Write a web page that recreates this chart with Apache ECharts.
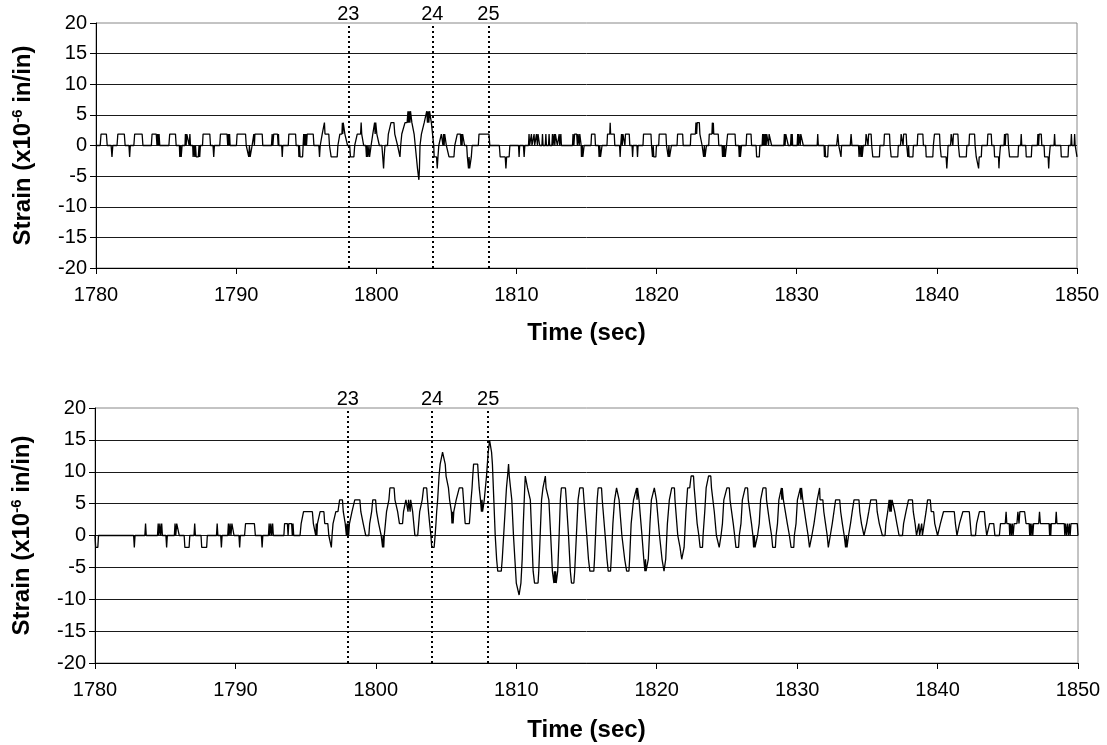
<!DOCTYPE html>
<html>
<head>
<meta charset="utf-8">
<script src="https://cdn.jsdelivr.net/npm/echarts@6/dist/echarts.min.js"></script>
<style>
html,body{margin:0;padding:0;background:#fff;}
#chart{width:1107px;height:745px;}
</style>
</head>
<body>
<div id="chart"></div>
<script>
// ---- data (time in sec, strain in x10^-6 in/in) ----
const markerTimes = [1798, 1804, 1808];
const markerLabels = ['23', '24', '25'];
const xMin = 1780, xMax = 1850, xStep = 10;
const yMin = -20, yMax = 20, yStep = 5;

const topStrain = [
[1780.0,0],[1780.3,0],[1780.36,1.87],[1780.74,1.87],[1780.8,0],[1781.08,0],[1781.14,-1.87],[1781.2,0],[1781.5,0],[1781.56,1.87],[1782.02,1.87],[1782.08,0],[1782.35,0],[1782.4,-1.87],[1782.45,0],[1782.7,0],[1782.76,1.87],[1783.29,1.87],[1783.35,0],
[1783.95,0],[1784.0,1.87],[1784.3,1.87],[1784.35,0],[1784.4,1.87],[1784.45,0],[1784.5,1.87],[1784.55,0],[1785.2,0],[1785.26,1.87],[1785.67,1.87],[1785.72,0],[1785.95,0],[1785.98,-1.87],[1786.03,0],[1786.08,-1.87],[1786.14,0],
[1786.35,0],[1786.38,1.87],[1786.43,0],[1786.48,1.87],[1786.6,1.87],[1786.65,0],[1786.7,1.87],[1786.74,0],[1786.9,0],[1786.93,-1.87],[1787.0,0],[1787.05,-1.87],[1787.1,0],[1787.15,-1.87],[1787.3,-1.87],[1787.35,0],[1787.4,-1.87],[1787.45,0],
[1787.6,0],[1787.64,1.87],[1788.12,1.87],[1788.17,0],[1788.35,0],[1788.4,-1.87],[1788.45,0],[1788.83,0],[1788.88,1.87],[1789.35,1.87],[1789.4,0],[1789.45,1.87],[1789.5,0],[1789.53,1.87],[1789.57,0],
[1790.02,0],[1790.07,1.87],[1790.67,1.87],[1790.72,0],[1790.86,0],[1790.9,-1.87],[1790.95,0],[1791.0,-1.87],[1791.1,-1.87],[1791.14,0],[1791.22,0],[1791.26,1.87],[1791.3,0],[1791.34,1.87],[1791.86,1.87],[1791.9,0],
[1792.52,0],[1792.57,1.87],[1792.62,0],[1792.68,1.87],[1792.95,1.87],[1793.0,0],[1793.02,1.87],[1793.05,0],[1793.25,0],[1793.29,-1.87],[1793.33,0],[1793.72,0],[1793.76,1.87],[1794.24,1.87],[1794.28,0],
[1794.45,0],[1794.48,-1.87],[1794.52,0],[1794.56,-1.87],[1794.74,-1.87],[1794.78,0],[1794.82,1.87],[1794.86,0],[1794.9,1.87],[1794.94,0],[1794.98,1.87],[1795.02,0],[1795.07,1.87],[1795.5,1.87],[1795.55,0],
[1795.9,0],[1795.95,-1.87],[1796.0,0],[1796.1,0],[1796.14,1.87],[1796.26,1.87],[1796.3,3.73],[1796.34,1.87],[1796.61,1.87],[1796.66,0],[1796.74,0],[1796.78,-1.87],[1797.21,-1.87],[1797.26,0],
[1797.35,0],[1797.4,1.87],[1797.55,1.87],[1797.58,3.73],[1797.61,1.87],[1797.64,3.73],[1797.72,3.73],[1797.76,1.87],[1797.88,1.87],[1797.95,0],[1798.1,0],[1798.16,-1.87],[1798.4,-1.87],[1798.46,0],
[1798.58,0],[1798.64,1.87],[1798.88,1.87],[1798.92,3.73],[1798.96,1.87],[1799.05,1.87],[1799.1,0],[1799.25,0],[1799.3,-1.87],[1799.35,0],[1799.4,-1.87],[1799.48,0],[1799.52,-1.87],[1799.59,-1.87],[1799.63,0],
[1799.7,0],[1799.75,1.87],[1799.85,1.87],[1799.88,3.73],[1799.92,1.87],[1799.96,3.73],[1800.0,3.73],[1800.04,1.87],[1800.16,1.87],[1800.22,0],[1800.4,0],[1800.46,-1.87],[1800.52,-3.73],[1800.56,-1.87],[1800.62,0],
[1800.8,0],[1800.86,1.87],[1800.98,1.87],[1801.05,3.73],[1801.26,3.73],[1801.32,1.87],[1801.45,1.87],[1801.52,0],[1801.64,0],[1801.69,-1.87],[1801.74,0],[1801.82,1.87],[1801.95,1.87],[1802.05,3.73],[1802.2,3.73],
[1802.26,5.6],[1802.3,3.73],[1802.35,5.6],[1802.4,3.73],[1802.44,5.6],[1802.5,5.6],[1802.54,3.73],[1802.64,3.73],[1802.7,1.87],[1802.78,0],[1802.86,-1.87],[1802.94,-3.73],[1803.0,-3.73],[1803.04,-5.6],[1803.08,-3.73],[1803.12,0],
[1803.22,1.87],[1803.32,1.87],[1803.42,3.73],[1803.54,3.73],[1803.6,5.6],[1803.65,3.73],[1803.7,5.6],[1803.75,3.73],[1803.8,5.6],[1803.88,5.6],[1803.93,3.73],[1804.06,3.73],[1804.1,0],[1804.13,-1.87],[1804.3,-1.87],[1804.35,-3.73],[1804.4,-1.87],[1804.46,0],
[1804.6,0],[1804.64,1.87],[1804.72,1.87],[1804.76,0],[1804.8,1.87],[1804.84,0],[1804.88,1.87],[1804.95,1.87],[1805.0,0],[1805.14,0],[1805.19,-1.87],[1805.54,-1.87],[1805.6,0],
[1805.74,0],[1805.78,1.87],[1806.0,1.87],[1806.04,0],[1806.08,1.87],[1806.12,0],[1806.16,1.87],[1806.26,1.87],[1806.3,0],[1806.45,0],[1806.5,-1.87],[1806.58,-3.73],[1806.62,-1.87],[1806.66,-3.73],[1806.72,-3.73],[1806.78,-1.87],[1806.84,0],
[1807.28,0],[1807.33,1.87],[1808.04,1.87],[1808.1,0],[1808.78,0],[1808.84,-1.87],[1809.2,-1.87],[1809.25,-3.73],[1809.3,-1.87],[1809.48,-1.87],[1809.53,0],
[1810.15,0],[1810.19,-1.87],[1810.23,0],[1810.5,0],[1810.55,-1.87],[1810.6,0],[1810.86,0],[1810.9,1.87],[1810.94,0],[1811.03,0],[1811.07,1.87],[1811.11,0],[1811.22,0],[1811.26,1.87],[1811.3,0],
[1811.4,0],[1811.43,1.87],[1811.5,0],[1811.54,1.87],[1811.62,1.87],[1811.66,0],[1811.82,0],[1811.86,1.87],[1811.9,0],[1812.06,0],[1812.1,1.87],[1812.14,0],[1812.29,0],[1812.33,1.87],[1812.37,0],
[1812.53,0],[1812.57,1.87],[1812.61,0],[1812.66,0],[1812.69,1.87],[1812.74,0],[1812.78,1.87],[1812.88,1.87],[1812.92,0],[1813.01,0],[1813.05,1.87],[1813.09,0],[1813.13,0],[1813.17,1.87],[1813.21,0],
[1814.0,0],[1814.04,1.87],[1814.1,0],[1814.15,1.87],[1814.3,1.87],[1814.35,0],[1814.4,1.87],[1814.48,0],[1814.52,1.87],[1814.6,1.87],[1814.62,0],[1814.64,-1.87],[1814.7,0],[1814.74,-1.87],[1814.79,-1.87],[1814.83,0],
[1815.32,0],[1815.36,1.87],[1815.6,1.87],[1815.64,0],[1815.86,0],[1815.9,-1.87],[1815.95,0],[1816.0,-1.87],[1816.07,-1.87],[1816.11,0],
[1816.46,0],[1816.5,1.87],[1816.66,1.87],[1816.69,3.73],[1816.72,1.87],[1816.98,1.87],[1817.02,0],[1817.36,0],[1817.4,-1.87],[1817.44,0],[1817.47,0],[1817.5,1.87],[1817.55,0],[1817.6,1.87],[1817.7,1.87],[1817.74,0],[1817.78,1.87],[1818.05,1.87],[1818.09,0],
[1818.25,0],[1818.29,-1.87],[1818.33,0],[1818.6,0],[1818.64,-1.87],[1818.68,0],[1819.03,0],[1819.07,1.87],[1819.6,1.87],[1819.64,0],[1819.68,0],[1819.71,-1.87],[1819.76,0],[1819.8,-1.87],[1819.95,-1.87],[1819.99,0],
[1820.15,0],[1820.19,1.87],[1820.67,1.87],[1820.71,0],[1820.79,0],[1820.83,-1.87],[1820.88,0],[1820.93,-1.87],[1821.02,-1.87],[1821.06,0],[1821.46,0],[1821.5,1.87],[1821.86,1.87],[1821.9,0],
[1822.41,0],[1822.45,1.87],[1822.77,1.87],[1822.81,3.73],[1822.86,1.87],[1822.9,3.73],[1823.05,3.73],[1823.09,1.87],[1823.2,1.87],[1823.25,0],[1823.32,0],[1823.36,-1.87],[1823.41,0],[1823.46,-1.87],[1823.52,-1.87],[1823.56,0],
[1823.72,0],[1823.76,1.87],[1823.95,1.87],[1823.98,3.73],[1824.02,1.87],[1824.05,3.73],[1824.08,1.87],[1824.4,1.87],[1824.44,0],[1824.67,0],[1824.71,-1.87],[1824.76,0],[1824.8,-1.87],[1824.85,0],[1824.9,-1.87],[1824.95,-1.87],[1824.99,0],
[1825.03,0],[1825.07,1.87],[1825.6,1.87],[1825.64,0],[1825.86,0],[1825.9,-1.87],[1825.95,0],[1825.98,-1.87],[1826.02,-1.87],[1826.06,0],[1826.39,0],[1826.43,1.87],[1826.74,1.87],[1826.78,0],[1827.1,0],[1827.14,-1.87],[1827.33,-1.87],[1827.37,0],
[1827.53,0],[1827.57,1.87],[1827.62,0],[1827.66,1.87],[1827.72,0],[1827.76,1.87],[1827.82,0],[1827.86,1.87],[1827.95,1.87],[1827.99,0],[1828.03,1.87],[1828.17,1.87],[1828.21,0],
[1829.08,0],[1829.12,1.87],[1829.17,0],[1829.22,1.87],[1829.36,1.87],[1829.4,0],[1829.56,0],[1829.6,1.87],[1829.65,0],[1829.68,1.87],[1829.71,0],[1830.03,0],[1830.07,1.87],[1830.12,0],[1830.16,1.87],[1830.25,0],[1830.29,1.87],[1830.43,1.87],[1830.47,0],
[1831.46,0],[1831.5,1.87],[1831.54,0],[1831.95,0],[1831.98,-1.87],[1832.02,0],[1832.06,-1.87],[1832.21,-1.87],[1832.25,0],[1832.85,0],[1832.93,1.87],[1833.0,0],[1833.12,0],[1833.16,-1.87],[1833.2,0],[1833.82,0],[1833.88,1.87],[1833.94,0],
[1834.41,0],[1834.45,-1.87],[1834.52,0],[1834.58,-1.87],[1834.64,0],[1834.67,-1.87],[1834.71,-1.87],[1834.75,0],[1834.91,0],[1834.95,1.87],[1835.05,1.87],[1835.09,0],[1835.13,1.87],[1835.31,1.87],[1835.35,0],
[1835.39,0],[1835.43,-1.87],[1835.9,-1.87],[1835.94,0],[1836.22,0],[1836.26,1.87],[1836.62,1.87],[1836.66,0],[1836.7,0],[1836.74,-1.87],[1837.21,-1.87],[1837.25,0],
[1837.41,0],[1837.45,1.87],[1837.55,1.87],[1837.59,0],[1837.63,1.87],[1837.81,1.87],[1837.85,0],[1837.89,0],[1837.93,-1.87],[1837.98,0],[1838.02,-1.87],[1838.29,-1.87],[1838.33,0],
[1838.6,0],[1838.64,1.87],[1839.0,1.87],[1839.04,0],[1839.2,0],[1839.24,-1.87],[1839.71,-1.87],[1839.75,0],[1839.79,0],[1839.83,1.87],[1840.19,1.87],[1840.23,0],
[1840.27,0],[1840.31,-1.87],[1840.66,-1.87],[1840.71,-3.73],[1840.76,-1.87],[1840.8,0],[1840.98,0],[1841.02,1.87],[1841.1,1.87],[1841.14,0],[1841.18,1.87],[1841.5,1.87],[1841.54,0],
[1841.58,0],[1841.62,-1.87],[1842.1,-1.87],[1842.14,0],[1842.29,0],[1842.33,1.87],[1842.69,1.87],[1842.73,0],[1842.77,0],[1842.81,-1.87],[1842.94,-1.87],[1842.98,-3.73],[1843.02,-1.87],[1843.17,-1.87],[1843.21,0],
[1843.6,0],[1843.64,1.87],[1843.88,1.87],[1843.92,0],[1844.08,0],[1844.12,-1.87],[1844.4,-1.87],[1844.43,-3.73],[1844.47,-1.87],[1844.5,-1.87],[1844.54,0],
[1844.79,0],[1844.83,1.87],[1844.88,0],[1844.92,1.87],[1845.07,1.87],[1845.11,0],[1845.15,0],[1845.19,-1.87],[1845.79,-1.87],[1845.83,0],[1845.98,0],[1846.02,1.87],[1846.06,0],
[1846.34,0],[1846.38,-1.87],[1846.74,-1.87],[1846.78,0],[1847.17,0],[1847.21,1.87],[1847.26,0],[1847.3,1.87],[1847.45,1.87],[1847.49,0],[1847.65,0],[1847.69,-1.87],[1847.94,-1.87],[1847.98,-3.73],[1848.02,-1.87],[1848.05,-1.87],[1848.09,0],
[1848.36,0],[1848.4,1.87],[1848.44,0],[1848.84,0],[1848.88,-1.87],[1849.36,-1.87],[1849.4,0],[1849.56,0],[1849.6,1.87],[1849.64,0],[1849.8,0],[1849.83,1.87],[1849.87,0],[1849.96,0],[1850.0,-1.87]
];

const bottomStrain = [
[1780.0,0],[1780.05,-1.87],[1780.2,-1.87],[1780.25,0],[1782.75,0],[1782.8,-1.87],[1782.85,0],[1783.55,0],[1783.6,1.87],[1783.65,0],
[1784.45,0],[1784.5,1.87],[1784.55,0],[1784.62,1.87],[1784.68,0],[1784.75,1.87],[1784.8,0],[1785.05,0],[1785.1,-1.87],[1785.15,0],
[1785.65,0],[1785.7,1.87],[1785.75,0],[1785.82,1.87],[1785.95,1.87],[1786.0,0],[1786.35,0],[1786.4,-1.87],[1786.7,-1.87],[1786.75,0],
[1787.05,0],[1787.1,1.87],[1787.15,0],[1787.55,0],[1787.6,-1.87],[1787.95,-1.87],[1788.0,0],[1788.65,0],[1788.7,1.87],[1788.75,0],[1788.95,0],[1789.0,-1.87],[1789.05,0],
[1789.45,0],[1789.5,1.87],[1789.55,0],[1789.62,1.87],[1789.68,0],[1789.75,1.87],[1789.85,1.87],[1789.9,0],[1790.25,0],[1790.3,-1.87],[1790.35,0],
[1790.65,0],[1790.72,1.87],[1791.35,1.87],[1791.42,0],[1791.85,0],[1791.9,-1.87],[1791.95,0],
[1792.35,0],[1792.4,1.87],[1792.45,0],[1792.52,1.87],[1792.58,0],[1792.65,1.87],[1792.7,0],
[1793.45,0],[1793.5,1.87],[1793.7,1.87],[1793.75,0],[1793.8,1.87],[1794.0,1.87],[1794.05,0],[1794.1,1.87],[1794.15,0],
[1794.6,0],[1794.68,1.87],[1794.75,1.87],[1794.85,3.73],[1795.48,3.73],[1795.55,1.87],[1795.68,1.87],[1795.72,0],[1795.76,1.87],[1795.8,0],[1795.84,1.87],[1795.98,1.87],[1796.03,3.73],[1796.3,3.73],
[1796.36,1.87],[1796.58,1.87],[1796.65,0],[1796.78,0],[1796.83,-1.87],[1796.88,0],[1796.95,1.87],[1797.05,1.87],[1797.15,3.73],[1797.3,3.73],[1797.42,5.6],[1797.62,5.6],[1797.68,3.73],[1797.75,3.73],
[1797.82,1.87],[1797.9,0],[1797.94,1.87],[1797.98,0],[1798.02,1.87],[1798.06,0],[1798.12,1.87],[1798.2,1.87],[1798.3,3.73],[1798.4,3.73],[1798.5,5.6],[1798.86,5.6],[1798.93,3.73],[1799.02,3.73],
[1799.1,1.87],[1799.2,1.87],[1799.28,0],[1799.5,0],[1799.56,1.87],[1799.62,1.87],[1799.7,3.73],[1799.78,5.6],[1799.98,5.6],[1800.05,3.73],[1800.12,3.73],[1800.2,1.87],[1800.3,1.87],[1800.38,0],
[1800.45,0],[1800.48,-1.87],[1800.52,0],[1800.56,-1.87],[1800.6,0],[1800.68,1.87],[1800.76,3.73],[1800.85,3.73],[1800.93,5.6],[1801.0,7.46],[1801.3,7.46],[1801.36,5.6],[1801.45,5.6],[1801.55,3.73],
[1801.62,3.73],[1801.68,1.87],[1801.9,1.87],[1801.97,3.73],[1802.06,3.73],[1802.14,5.6],[1802.25,5.6],[1802.29,3.73],[1802.33,5.6],[1802.4,5.6],[1802.44,3.73],[1802.48,5.6],[1802.55,5.6],
[1802.62,3.73],[1802.7,1.87],[1802.78,0],[1802.98,0],[1803.05,1.87],[1803.12,3.73],[1803.22,3.73],[1803.3,5.6],[1803.4,7.46],[1803.62,7.46],[1803.68,5.6],[1803.75,3.73],[1803.83,1.87],[1803.92,0],
[1803.98,-1.87],[1804.15,-1.87],[1804.22,0],[1804.28,1.87],[1804.33,3.73],[1804.4,5.6],[1804.45,7.46],[1804.5,9.33],[1804.58,11.2],[1804.68,11.2],[1804.75,13.06],[1804.88,13.06],[1804.94,11.2],
[1805.0,9.33],[1805.1,9.33],[1805.17,7.46],[1805.25,5.6],[1805.33,5.6],[1805.38,3.73],[1805.42,1.87],[1805.46,3.73],[1805.5,1.87],[1805.55,3.73],[1805.62,3.73],[1805.72,5.6],[1805.85,5.6],
[1805.94,7.46],[1806.18,7.46],[1806.24,5.6],[1806.3,3.73],[1806.36,1.87],[1806.66,1.87],[1806.72,3.73],[1806.78,5.6],[1806.85,7.46],[1806.9,9.33],[1806.96,11.2],[1807.25,11.2],[1807.3,9.33],
[1807.36,7.46],[1807.45,5.6],[1807.52,3.73],[1807.56,5.6],[1807.6,3.73],[1807.66,3.73],[1807.72,5.6],[1807.8,7.46],[1807.88,9.33],[1807.94,11.2],[1808.0,13.06],[1808.1,14.93],[1808.17,14.93],
[1808.24,13.06],[1808.3,11.2],[1808.4,5.6],[1808.5,0],[1808.6,-3.73],[1808.68,-5.6],[1808.93,-5.6],[1809.0,-3.73],[1809.1,0],[1809.2,3.73],[1809.3,7.46],[1809.38,9.33],[1809.45,11.2],[1809.5,9.33],
[1809.6,9.33],[1809.68,5.6],[1809.8,0],[1809.9,-3.73],[1810.0,-7.46],[1810.12,-7.46],[1810.2,-9.33],[1810.26,-9.33],[1810.33,-7.46],[1810.42,-3.73],[1810.5,1.87],[1810.6,7.46],[1810.64,9.33],
[1810.76,9.33],[1810.8,7.46],[1810.94,7.46],[1811.0,5.6],[1811.1,0],[1811.2,-5.6],[1811.3,-7.46],[1811.55,-7.46],[1811.6,-5.6],[1811.7,0],[1811.8,5.6],[1811.9,7.46],[1812.02,7.46],[1812.07,9.33],
[1812.12,7.46],[1812.26,7.46],[1812.32,5.6],[1812.45,0],[1812.57,-5.6],[1812.68,-7.46],[1812.72,-5.6],[1812.76,-7.46],[1812.8,-5.6],[1812.84,-7.46],[1812.9,-7.46],[1812.95,-5.6],[1813.05,0],
[1813.14,5.6],[1813.21,7.46],[1813.5,7.46],[1813.56,5.6],[1813.62,5.6],[1813.72,0],[1813.85,-5.6],[1813.93,-7.46],[1814.1,-7.46],[1814.16,-5.6],[1814.28,0],[1814.4,5.6],[1814.52,7.46],
[1814.76,7.46],[1814.82,5.6],[1814.9,5.6],[1815.02,0],[1815.14,-3.73],[1815.24,-5.6],[1815.52,-5.6],[1815.57,-3.73],[1815.68,1.87],[1815.76,5.6],[1815.83,7.46],[1816.07,7.46],[1816.12,5.6],
[1816.2,5.6],[1816.33,0],[1816.46,-3.73],[1816.55,-5.6],[1816.71,-5.6],[1816.76,-3.73],[1816.88,1.87],[1817.0,5.6],[1817.14,7.46],[1817.26,7.46],[1817.32,5.6],[1817.4,5.6],[1817.52,0],
[1817.72,-3.73],[1817.86,-5.6],[1818.02,-5.6],[1818.07,-3.73],[1818.18,1.87],[1818.35,5.6],[1818.45,5.6],[1818.57,7.46],[1818.6,5.6],[1818.63,7.46],[1818.69,7.46],[1818.74,5.6],[1818.82,5.6],
[1818.95,0],[1819.08,-3.73],[1819.16,-5.6],[1819.2,-3.73],[1819.24,-5.6],[1819.35,-5.6],[1819.4,-3.73],[1819.52,1.87],[1819.62,5.6],[1819.74,5.6],[1819.83,7.46],[1819.92,7.46],[1819.98,5.6],
[1820.06,5.6],[1820.2,0],[1820.38,-3.73],[1820.52,-5.6],[1820.59,-5.6],[1820.64,-3.73],[1820.76,1.87],[1820.9,5.6],[1821.0,5.6],[1821.07,7.46],[1821.26,7.46],[1821.3,5.6],[1821.38,5.6],
[1821.5,0],[1821.66,-1.87],[1821.78,-3.73],[1821.9,-3.73],[1821.95,-1.87],[1822.08,3.73],[1822.2,7.46],[1822.35,7.46],[1822.45,9.33],[1822.62,9.33],[1822.67,7.46],[1822.75,7.46],[1822.88,1.87],
[1823.0,0],[1823.09,-1.87],[1823.26,-1.87],[1823.3,0],[1823.42,3.73],[1823.52,7.46],[1823.62,7.46],[1823.69,9.33],[1823.85,9.33],[1823.9,7.46],[1823.98,7.46],[1824.1,3.73],[1824.25,0],
[1824.35,0],[1824.45,-1.87],[1824.52,-1.87],[1824.58,0],[1824.68,1.87],[1824.78,5.6],[1824.9,5.6],[1825.0,7.46],[1825.17,7.46],[1825.22,5.6],[1825.3,5.6],[1825.45,1.87],[1825.55,0],
[1825.64,-1.87],[1825.83,-1.87],[1825.88,0],[1826.0,1.87],[1826.1,5.6],[1826.2,5.6],[1826.3,7.46],[1826.47,7.46],[1826.52,5.6],[1826.6,5.6],[1826.75,1.87],[1826.85,0],[1826.9,-1.87],
[1826.95,0],[1827.0,-1.87],[1827.14,-1.87],[1827.18,0],[1827.3,1.87],[1827.4,5.6],[1827.5,5.6],[1827.57,7.46],[1827.78,7.46],[1827.82,5.6],[1827.9,5.6],[1828.05,1.87],[1828.18,0],
[1828.26,-1.87],[1828.45,-1.87],[1828.5,0],[1828.6,1.87],[1828.7,5.6],[1828.82,5.6],[1828.88,7.46],[1828.91,5.6],[1828.94,7.46],[1828.97,7.46],[1829.02,5.6],[1829.12,5.6],[1829.3,1.87],
[1829.45,0],[1829.57,-1.87],[1829.76,-1.87],[1829.8,0],[1829.92,1.87],[1830.02,5.6],[1830.15,5.6],[1830.23,7.46],[1830.27,5.6],[1830.31,7.46],[1830.35,7.46],[1830.4,5.6],[1830.5,5.6],
[1830.65,1.87],[1830.78,0],[1830.88,-1.87],[1831.0,-1.87],[1831.05,0],[1831.2,1.87],[1831.32,3.73],[1831.43,5.6],[1831.57,5.6],[1831.6,7.46],[1831.63,5.6],[1831.83,5.6],[1831.9,3.73],
[1832.02,1.87],[1832.14,0],[1832.22,-1.87],[1832.31,-1.87],[1832.36,0],[1832.5,1.87],[1832.62,3.73],[1832.74,5.6],[1833.03,5.6],[1833.1,3.73],[1833.22,1.87],[1833.35,0],[1833.45,-1.87],
[1833.5,0],[1833.55,-1.87],[1833.62,-1.87],[1833.66,0],[1833.8,1.87],[1833.92,3.73],[1834.05,5.6],[1834.4,5.6],[1834.46,3.73],[1834.58,1.87],[1834.76,0],[1834.88,0],[1834.95,1.87],
[1835.1,3.73],[1835.24,5.6],[1835.64,5.6],[1835.7,3.73],[1835.85,1.87],[1836.07,0],[1836.26,0],[1836.32,1.87],[1836.45,3.73],[1836.55,5.6],[1836.6,3.73],[1836.65,5.6],[1836.7,3.73],
[1836.76,5.6],[1836.9,5.6],[1836.95,3.73],[1837.1,1.87],[1837.26,0],[1837.5,0],[1837.58,1.87],[1837.75,3.73],[1837.93,5.6],[1838.21,5.6],[1838.27,3.73],[1838.4,1.87],[1838.5,0],
[1838.62,0],[1838.67,1.87],[1838.72,0],[1838.82,0],[1838.87,1.87],[1838.92,0],[1838.98,0],[1839.05,1.87],[1839.18,3.73],[1839.29,5.6],[1839.48,5.6],[1839.55,3.73],[1839.72,3.73],
[1839.8,1.87],[1839.92,1.87],[1840.0,0],[1840.12,0],[1840.2,1.87],[1840.3,1.87],[1840.42,3.73],[1841.19,3.73],[1841.27,1.87],[1841.38,0],[1841.48,0],[1841.56,1.87],[1841.7,1.87],
[1841.8,3.73],[1842.26,3.73],[1842.33,1.87],[1842.4,0],[1842.7,0],[1842.78,1.87],[1842.88,1.87],[1842.98,3.73],[1843.33,3.73],[1843.4,1.87],[1843.5,0],
[1843.62,0],[1843.7,1.87],[1844.0,1.87],[1844.08,0],[1844.4,0],[1844.48,1.87],[1844.82,1.87],[1844.88,3.73],[1844.93,1.87],[1845.1,1.87],[1845.14,0],[1845.2,1.87],[1845.26,0],[1845.32,1.87],
[1845.38,0],[1845.45,1.87],[1845.65,1.87],[1845.72,3.73],[1845.8,1.87],[1845.86,3.73],[1846.2,3.73],[1846.3,1.87],[1846.52,1.87],[1846.56,0],[1846.6,1.87],[1846.66,0],[1846.72,1.87],
[1846.78,0],[1846.84,1.87],[1847.2,1.87],[1847.26,3.73],[1847.32,1.87],[1847.94,1.87],[1847.98,0],[1848.02,1.87],[1848.06,0],[1848.1,1.87],[1848.4,1.87],[1848.45,3.73],[1848.5,1.87],
[1849.02,1.87],[1849.06,0],[1849.1,1.87],[1849.18,0],[1849.24,1.87],[1849.32,0],[1849.38,1.87],[1849.44,0],[1849.5,1.87],[1849.95,1.87],[1850.0,0]
];

// ---- chart ----
const FONT = "'Liberation Sans', Arial, sans-serif";
const chart = echarts.init(document.getElementById('chart'), null, {renderer: 'canvas'});

function xAxisFor(idx) {
  return {
    type: 'value', gridIndex: idx, min: xMin, max: xMax, interval: xStep,
    name: 'Time (sec)', nameLocation: 'middle', nameGap: idx === 0 ? 53 : 55,
    nameTextStyle: {fontFamily: FONT, fontWeight: 'bold', fontSize: 24, color: '#000'},
    axisLine: {show: true, onZero: false, lineStyle: {color: '#000', width: 1}},
    axisTick: {show: true, inside: false, length: 6, lineStyle: {color: '#000'}},
    axisLabel: {fontFamily: FONT, fontSize: 20, color: '#000', margin: 17, formatter: v => String(v)},
    splitLine: {show: false}
  };
}
function yAxisFor(idx) {
  return {
    type: 'value', gridIndex: idx, min: yMin, max: yMax, interval: yStep,
    name: 'Strain (x10{sup|-6} in/in)', nameLocation: 'middle', nameGap: 60, nameRotate: 90,
    nameTextStyle: {fontFamily: FONT, fontWeight: 'bold', fontSize: 24, color: '#000',
      rich: {sup: {fontFamily: FONT, fontWeight: 'bold', fontSize: 15, color: '#000', verticalAlign: 'top', padding: [0, 0, 11, 0]}}},
    axisLine: {show: true, onZero: false, lineStyle: {color: '#000', width: 1}},
    axisTick: {show: true, inside: false, length: 6, lineStyle: {color: '#000'}},
    axisLabel: {fontFamily: FONT, fontSize: 20, color: '#000', margin: 9},
    splitLine: {show: true, showMaxLine: false, lineStyle: {color: '#1a1a1a', width: 1}}
  };
}
function markers() {
  return {
    silent: true, symbol: 'none', animation: false,
    lineStyle: {color: '#000', width: 2, type: [2, 3]},
    label: {show: true, position: 'end', distance: -1, fontFamily: FONT, fontSize: 20, color: '#000',
      formatter: p => p.name},
    data: markerTimes.map((t, i) => ({xAxis: t, name: markerLabels[i]}))
  };
}

chart.setOption({
  animation: false,
  backgroundColor: '#fff',
  grid: [
    {left: 96, top: 23, width: 981, height: 245, show: true, borderColor: '#888', borderWidth: 1, backgroundColor: 'transparent'},
    {left: 95, top: 408, width: 983, height: 255, show: true, borderColor: '#888', borderWidth: 1, backgroundColor: 'transparent'}
  ],
  xAxis: [xAxisFor(0), xAxisFor(1)],
  yAxis: [yAxisFor(0), yAxisFor(1)],
  series: [
    {type: 'line', xAxisIndex: 0, yAxisIndex: 0, data: topStrain, showSymbol: false, symbol: 'none',
      lineStyle: {color: '#000', width: 1.3}, markLine: markers()},
    {type: 'line', xAxisIndex: 1, yAxisIndex: 1, data: bottomStrain, showSymbol: false, symbol: 'none',
      lineStyle: {color: '#000', width: 1.3}, markLine: markers()}
  ]
});
</script>
</body>
</html>
